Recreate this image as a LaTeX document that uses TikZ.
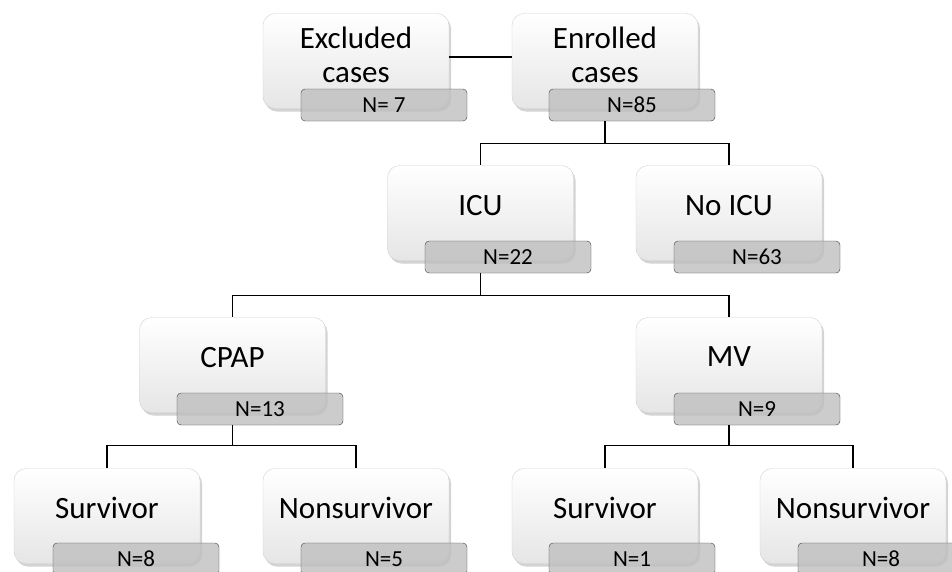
\documentclass[tikz,border=0pt]{standalone}
\usepackage{fontspec}
\setmainfont{Carlito}
\usepackage{tikz}
\usetikzlibrary{shadows}

\begin{document}
\begin{tikzpicture}[x=1pt,y=-1pt]
            \clip (0,0) rectangle (952,571);
            \begin{scope}[every node/.style={rounded corners=12pt,draw=gray!35,
                          top color=white,bottom color=gray!20,
                          drop shadow={opacity=0.35,shadow xshift=2pt,shadow yshift=-3pt},
                          minimum width=186pt,minimum height=95pt,align=center,
                          text depth=16pt,font=\fontsize{31}{34}\selectfont}]
                \node[text depth=12pt] (excl) at (356,61) {Excluded\\cases};
                \node[text depth=12pt] (enr) at (605,61) {Enrolled\\cases};
                \node (icu) at (480.5,213) {ICU};
                \node (noicu) at (729,213) {No ICU};
                \node (cpap) at (232.5,365) {CPAP};
                \node (mv) at (729,365) {MV};
                \node (survA) at (107,516) {Survivor};
                \node (nonsA) at (356,516) {Nonsurvivor};
                \node (survB) at (605,516) {Survivor};
                \node (nonsB) at (853,516) {Nonsurvivor};
            \end{scope}

            \begin{scope}[every node/.style={rounded corners=4pt,draw=black!75,
                          fill=gray!50,fill opacity=0.8,text opacity=1,
                          minimum width=166pt,minimum height=32pt,
                          font=\fontsize{23}{26}\selectfont}]
                \node (exclN) at (384,105) {N= 7};
                \node (enrN) at (632,105) {N=85};
                \node (icuN) at (508,257) {N=22};
                \node (noicuN) at (757,257) {N=63};
                \node (cpapN) at (260,409) {N=13};
                \node (mvN) at (757,409) {N=9};
                \node (survAN) at (136,559) {N=8};
                \node (nonsAN) at (384,559) {N=5};
                \node (survBN) at (632,559) {N=1};
                \node (nonsBN) at (881,559) {N=8};
            \end{scope}

            \begin{scope}[every path/.style={draw=black,line width=1.3pt}]
                \path ([yshift=4pt]excl.east) -- ([yshift=4pt]enr.west);

                \path (enrN.south -| enr.center) -- ++(0,22) coordinate (enrfork) -| (icu.north);
                \path (enrfork) -| (noicu.north);

                \path (icuN.south -| icu.center) -- ++(0,22) coordinate (icufork) -| (cpap.north);
                \path (icufork) -| (mv.north);

                \path (cpapN.south -| cpap.center) -- ++(0,20) coordinate (cpapfork) -| (survA.north);
                \path (cpapfork) -| (nonsA.north);

                \path (mvN.south -| mv.center) -- ++(0,20) coordinate (mvfork) -| (survB.north);
                \path (mvfork) -| (nonsB.north);
            \end{scope}
\end{tikzpicture}
\end{document}
